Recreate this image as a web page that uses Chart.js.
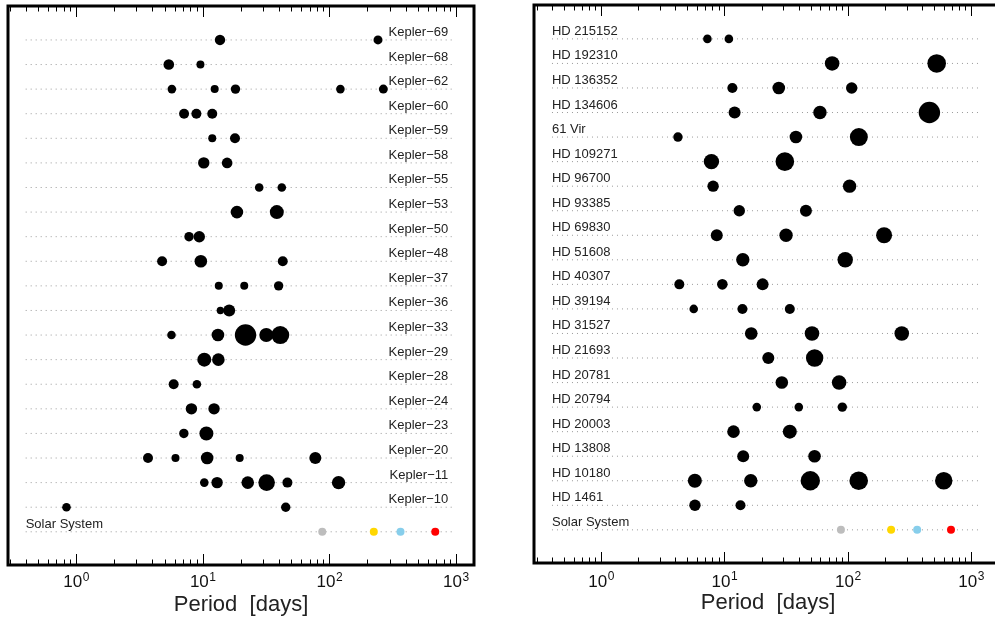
<!DOCTYPE html>
<html>
<head>
<meta charset="utf-8">
<script src="https://cdn.jsdelivr.net/npm/chart.js@4.4.1/dist/chart.umd.min.js"></script>
<style>
  html, body { margin: 0; padding: 0; background: #fff; overflow: hidden; width: 995px; height: 620px; }
  #leftBox { position: absolute; left: 0; top: 0; width: 480px; height: 620px; }
  #rightBox { position: absolute; left: 520px; top: 0; width: 482px; height: 620px; }
</style>
</head>
<body>
<div id="leftBox"><canvas id="keplerChart"></canvas></div>
<div id="rightBox"><canvas id="hdChart"></canvas></div>
<script>
// rows listed bottom to top (row 0 is the Solar System)
const keplerNames = ['Kepler−10', 'Kepler−11', 'Kepler−20', 'Kepler−23', 'Kepler−24', 'Kepler−28', 'Kepler−29',
  'Kepler−33', 'Kepler−36', 'Kepler−37', 'Kepler−48', 'Kepler−50', 'Kepler−53', 'Kepler−55', 'Kepler−58',
  'Kepler−59', 'Kepler−60', 'Kepler−62', 'Kepler−68', 'Kepler−69'];
const keplerPeriods = [
  [0.84, 45.3],
  [10.3, 13.0, 22.7, 32.0, 46.7, 118.4],
  [3.7, 6.1, 10.85, 19.6, 77.6],
  [7.1, 10.7],
  [8.15, 12.3],
  [5.9, 9.0],
  [10.3, 13.3],
  [5.67, 13.2, 21.8, 31.8, 41.0],
  [13.8, 16.2],
  [13.4, 21.3, 39.8],
  [4.78, 9.67, 42.9],
  [7.8, 9.4],
  [18.65, 38.5],
  [27.95, 42.15],
  [10.2, 15.6],
  [11.9, 18.0],
  [7.13, 8.92, 11.9],
  [5.71, 12.44, 18.16, 122.4, 267.3],
  [5.4, 9.6],
  [13.7, 242.5]
];
const keplerSizes = [
  [4.3, 4.7],
  [4.3, 5.7, 6.3, 8.3, 5, 6.7],
  [5, 4, 6.3, 4, 6],
  [4.7, 7],
  [5.7, 5.7],
  [5, 4.3],
  [7, 6.3],
  [4.3, 6.3, 10.7, 7, 9],
  [3.7, 6],
  [4, 4, 4.7],
  [5, 6.3, 5],
  [4.7, 5.7],
  [6.3, 7],
  [4.3, 4.3],
  [5.7, 5.3],
  [4, 5],
  [5, 5, 5],
  [4.3, 4, 4.7, 4.3, 4.5],
  [5.3, 4],
  [5.2, 4.5]
];

const hdNames = ['HD 1461', 'HD 10180', 'HD 13808', 'HD 20003', 'HD 20794', 'HD 20781', 'HD 21693', 'HD 31527',
  'HD 39194', 'HD 40307', 'HD 51608', 'HD 69830', 'HD 93385', 'HD 96700', 'HD 109271', '61 Vir',
  'HD 134606', 'HD 136352', 'HD 192310', 'HD 215152'];
const hdPeriods = [
  [5.77, 13.5],
  [5.76, 16.36, 49.7, 122.7, 600],
  [14.2, 53.8],
  [11.85, 33.9],
  [18.3, 40.1, 90.3],
  [29.2, 85.1],
  [22.7, 53.9],
  [16.5, 51.3, 274],
  [5.64, 14.0, 33.9],
  [4.31, 9.62, 20.4],
  [14.1, 95.4],
  [8.67, 31.6, 197],
  [13.2, 45.8],
  [8.1, 103.5],
  [7.85, 30.9],
  [4.2, 38.0, 123],
  [12.1, 59.5, 459],
  [11.6, 27.6, 107.6],
  [74.7, 526],
  [7.28, 10.87]
];
const hdSizes = [
  [5.7, 5],
  [7, 6.7, 9.7, 9.3, 8.7],
  [6, 6.3],
  [6.3, 7],
  [4.3, 4.3, 4.7],
  [6.3, 7.3],
  [6, 8.7],
  [6.3, 7.3, 7.3],
  [4.3, 5, 5],
  [5, 5.3, 6],
  [6.7, 7.7],
  [6, 6.7, 8],
  [5.7, 6],
  [5.7, 6.7],
  [7.7, 9.3],
  [4.7, 6.3, 9],
  [6, 6.7, 10.7],
  [5, 6.3, 5.7],
  [7.3, 9.3],
  [4.3, 4.3]
];

const solarLabel = 'Solar System';
const solarPeriods = [88.0, 224.7, 365.25, 687.0];
const solarSizes = [4, 4, 4, 4];
const solarColors = ['#bdbdbd', '#ffd700', '#87ceeb', '#ff0000'];

const FONT = '"Liberation Sans", Arial, Helvetica, sans-serif';
Chart.defaults.font.family = FONT;
Chart.defaults.animation = false;

function planetPoints(periods, sizes) {
  const pts = [];
  periods.forEach((row, i) => {
    row.forEach((p, j) => pts.push({ x: p, y: i + 1, r: sizes[i][j] }));
  });
  return pts;
}

function guideDatasets(rows, from, to) {
  const sets = [];
  for (let i = 0; i <= rows; i++) {
    sets.push({
      type: 'line',
      data: [{ x: from, y: i }, { x: to, y: i }],
      borderColor: '#9a9a9a',
      borderWidth: 1,
      borderDash: [1, 4],
      pointRadius: 0
    });
  }
  return sets;
}

// frame, inward ticks, 10^n labels and system names
const decorPlugin = {
  id: 'decor',
  afterDraw(chart, args, opts) {
    const ctx = chart.ctx;
    const area = chart.chartArea;
    const xs = chart.scales.x;
    const ys = chart.scales.y;
    ctx.save();

    ctx.strokeStyle = '#000';
    ctx.lineWidth = 1;
    for (let k = -1; k <= 3; k++) {
      for (let m = 1; m <= 9; m++) {
        const v = m * Math.pow(10, k);
        if (v < xs.min || v > xs.max) continue;
        const px = Math.round(xs.getPixelForValue(v)) + 0.5;
        const len = m === 1 ? 11 : 5.5;
        ctx.beginPath();
        ctx.moveTo(px, area.bottom);
        ctx.lineTo(px, area.bottom - len);
        ctx.moveTo(px, area.top);
        ctx.lineTo(px, area.top + len);
        ctx.stroke();
      }
    }

    ctx.lineWidth = 3;
    ctx.strokeRect(area.left, area.top, area.right - area.left, area.bottom - area.top);

    ctx.fillStyle = '#111';
    ctx.textAlign = 'left';
    ctx.textBaseline = 'alphabetic';
    for (let p = 0; p <= 3; p++) {
      const px = xs.getPixelForValue(Math.pow(10, p));
      ctx.font = '17px ' + FONT;
      const w10 = ctx.measureText('10').width;
      ctx.font = '12px ' + FONT;
      const wExp = ctx.measureText(String(p)).width;
      const start = px - (w10 + wExp) / 2;
      const base = area.bottom + opts.tickOffset;
      ctx.font = '17px ' + FONT;
      ctx.fillText('10', start, base);
      ctx.font = '12px ' + FONT;
      ctx.fillText(String(p), start + w10 + 0.5, base - 6.5);
    }

    ctx.font = '13px ' + FONT;
    ctx.fillStyle = '#222';
    const names = [solarLabel].concat(opts.names);
    names.forEach((name, i) => {
      const py = ys.getPixelForValue(i) - 4;
      if (opts.labelSide === 'right' && i > 0) {
        ctx.textAlign = 'right';
        ctx.fillText(name, xs.getPixelForValue(opts.labelRight), py);
      } else {
        ctx.textAlign = 'left';
        ctx.fillText(name, xs.getPixelForValue(opts.labelLeft), py);
      }
    });
    ctx.restore();
  }
};

function createSystemsChart(canvasId, names, periods, sizes, panel) {
  const chart = document.getElementById(canvasId);
  new Chart(chart, {
    type: 'bubble',
    data: {
      datasets: [{
        data: solarPeriods.map((p, i) => ({ x: p, y: 0, r: solarSizes[i] })),
        backgroundColor: solarColors,
        borderWidth: 0,
        hoverRadius: 0
      }, {
        data: planetPoints(periods, sizes),
        backgroundColor: '#000',
        borderWidth: 0,
        hoverRadius: 0
      }].concat(guideDatasets(names.length, panel.guideFrom, panel.guideTo))
    },
    options: {
      responsive: true,
      maintainAspectRatio: false,
      events: [],
      layout: { padding: panel.padding, autoPadding: false },
      scales: {
        x: {
          type: 'logarithmic',
          min: panel.xMin,
          max: panel.xMax,
          grid: { display: false, drawTicks: false },
          border: { display: false },
          ticks: { display: false },
          title: {
            display: true,
            text: 'Period  [days]',
            color: '#222',
            font: { size: 22 },
            padding: { top: 27, bottom: panel.titleBottom }
          }
        },
        y: {
          type: 'linear',
          min: -1.35,
          max: 21.38,
          display: false
        }
      },
      plugins: {
        legend: { display: false },
        tooltip: { enabled: false },
        decor: {
          names: names,
          labelSide: panel.labelSide,
          labelLeft: 0.4,
          labelRight: 870,
          tickOffset: panel.tickOffset
        }
      }
    },
    plugins: [decorPlugin]
  });
}

createSystemsChart('keplerChart', keplerNames, keplerPeriods, keplerSizes, {
  xMin: 0.29, xMax: 1390,
  guideFrom: 0.4, guideTo: 930,
  labelSide: 'right',
  padding: { left: 8, right: 6, top: 6, bottom: 0.6 },
  titleBottom: 1,
  tickOffset: 22
});

createSystemsChart('hdChart', hdNames, hdPeriods, hdSizes, {
  xMin: 0.286, xMax: 1780,
  guideFrom: 0.4, guideTo: 1160,
  labelSide: 'left',
  padding: { left: 14, right: 0, top: 5, bottom: 2.6 },
  titleBottom: 1,
  tickOffset: 23.5
});
</script>
</body>
</html>
